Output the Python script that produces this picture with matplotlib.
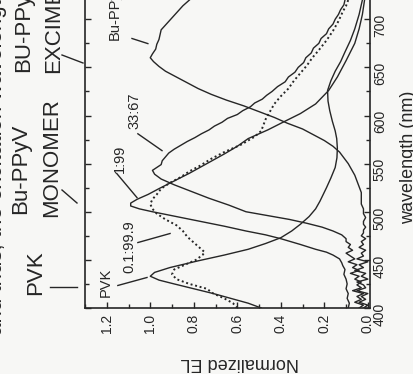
import matplotlib
matplotlib.use("Agg")
import matplotlib.pyplot as plt
from matplotlib.ticker import MultipleLocator
from matplotlib.lines import Line2D

plt.rcParams['font.family'] = ['Liberation Sans', 'DejaVu Sans']

# EL spectra of PVK : Bu-PPyV blends (wavelength in nm, normalized EL)
wl_pvk = [400, 405, 410, 415, 420, 425, 429, 433, 437, 442, 449, 455, 461, 467, 473, 480,
          487, 495, 503, 511, 518, 525, 535, 546, 556, 566, 576, 584, 594, 605, 615, 626,
          636, 646, 656, 666, 678, 690, 705, 720]
el_pvk = [0.49, 0.55, 0.63, 0.71, 0.80, 0.89, 0.96, 1.00, 0.98, 0.91, 0.78, 0.66, 0.55, 0.47,
          0.40, 0.35, 0.31, 0.27, 0.24, 0.22, 0.205, 0.19, 0.17, 0.15, 0.142, 0.14, 0.143,
          0.15, 0.163, 0.175, 0.183, 0.185, 0.17, 0.15, 0.125, 0.105, 0.08, 0.06, 0.04, 0.025]

wl_01 = [400, 405, 410, 415, 420, 425, 430, 435, 440, 445, 450, 455, 458, 462, 468, 474,
         480, 486, 492, 498, 503, 508, 513, 518, 524, 530, 536, 542, 548, 555, 562, 570,
         578, 584, 590, 596, 604, 612, 620, 628, 636, 644, 652, 660, 668, 678, 688, 698,
         708, 714, 720]
el_01 = [0.60, 0.62, 0.66, 0.71, 0.74, 0.82, 0.88, 0.90, 0.89, 0.84, 0.79, 0.76, 0.75,
         0.77, 0.80, 0.83, 0.85, 0.88, 0.93, 0.97, 0.99, 1.00, 0.99, 0.97, 0.95, 0.91,
         0.86, 0.82, 0.77, 0.72, 0.66, 0.58, 0.52, 0.49, 0.48, 0.47, 0.45, 0.43, 0.40,
         0.365, 0.34, 0.31, 0.28, 0.255, 0.225, 0.19, 0.16, 0.135, 0.115, 0.10, 0.09]

wl_1 = [400, 405, 410, 415, 420, 425, 430, 435, 440, 444, 447, 451, 455, 458, 461, 466,
        472, 476, 480, 485, 490, 495, 500, 503, 506, 509, 513, 518, 524, 532, 540, 550,
        560, 568, 576, 585, 593, 602, 612, 626, 640, 657, 675, 690, 705, 720]
el_1 = [0.09, 0.085, 0.095, 0.09, 0.10, 0.095, 0.10, 0.11, 0.105, 0.115, 0.12, 0.13, 0.16,
        0.19, 0.24, 0.31, 0.40, 0.47, 0.56, 0.66, 0.77, 0.88, 0.99, 1.05, 1.09, 1.09, 1.06,
        1.01, 0.96, 0.89, 0.82, 0.74, 0.66, 0.60, 0.55, 0.46, 0.39, 0.31, 0.24, 0.18, 0.14,
        0.10, 0.06, 0.04, 0.025, 0.015]

wl_33 = [400, 403, 406, 409, 412, 415, 418, 421, 424, 427, 430, 433, 436, 439, 442, 445,
         448, 451, 454, 457, 460, 463, 466, 469, 472, 476, 480, 484, 488, 492, 496, 500,
         507, 514, 521, 528, 534, 539, 543, 546, 549, 553, 557, 561, 565, 569, 573, 577,
         581, 585, 589, 593, 597, 601, 605, 609, 613, 617, 621, 625, 630, 635, 640, 645,
         650, 655, 660, 665, 670, 675, 680, 685, 690, 695, 700, 705, 710, 715, 720]
el_33 = [0.04, 0.02, 0.06, 0.03, 0.05, 0.02, 0.07, 0.03, 0.05, 0.03, 0.06, 0.04, 0.08, 0.04,
         0.07, 0.05, 0.09, 0.06, 0.08, 0.10, 0.07, 0.09, 0.08, 0.10, 0.10, 0.12, 0.16, 0.21,
         0.28, 0.36, 0.46, 0.56, 0.64, 0.73, 0.81, 0.89, 0.95, 0.98, 0.99, 0.97, 0.95, 0.945,
         0.93, 0.915, 0.89, 0.86, 0.83, 0.795, 0.765, 0.73, 0.705, 0.67, 0.645, 0.60, 0.575,
         0.54, 0.52, 0.485, 0.465, 0.44, 0.415, 0.38, 0.365, 0.335, 0.32, 0.295, 0.285, 0.26,
         0.25, 0.225, 0.215, 0.19, 0.18, 0.16, 0.15, 0.135, 0.125, 0.11, 0.105]

wl_bu = [400, 403, 406, 409, 412, 415, 418, 421, 424, 427, 430, 433, 436, 439, 442, 445,
         448, 451, 454, 457, 460, 463, 466, 469, 472, 475, 478, 481, 484, 487, 490, 494,
         498, 503, 508, 514, 520, 526, 532, 538, 544, 550, 556, 562, 568, 574, 580, 586,
         592, 598, 604, 610, 616, 622, 628, 634, 640, 646, 651, 656, 660, 664, 669, 674,
         679, 684, 689, 694, 699, 704, 709, 714, 720]
el_bu = [0.02, 0.00, 0.04, 0.01, 0.03, 0.00, 0.05, 0.01, 0.02, 0.05, 0.00, 0.03, 0.01, 0.06,
         0.02, 0.04, 0.00, 0.05, 0.02, 0.03, 0.01, 0.04, 0.02, 0.03, 0.01, 0.03, 0.02, 0.02,
         0.01, 0.02, 0.02, 0.01, 0.02, 0.02, 0.03, 0.03, 0.03, 0.04, 0.05, 0.06, 0.075, 0.09,
         0.11, 0.13, 0.16, 0.20, 0.25, 0.30, 0.37, 0.43, 0.50, 0.57, 0.65, 0.72, 0.78, 0.83,
         0.88, 0.93, 0.96, 0.985, 1.00, 0.99, 0.975, 0.97, 0.96, 0.955, 0.95, 0.93, 0.91,
         0.89, 0.87, 0.85, 0.82]

ink = '#262626'
paper = '#f7f7f5'

fig = plt.figure(figsize=(4.14, 3.74), dpi=100, facecolor=paper)
W, H = 414.0, 374.0


def px(x, y):
    # pixel position (from top-left) -> figure fraction
    return x / W, 1 - y / H


ax = fig.add_axes([85 / W, 66 / H, 285 / W, 308 / H])
ax.set_facecolor(paper)

# spectra drawn sideways: EL runs along the bottom, wavelength up the right side
ax.plot(el_pvk, wl_pvk, color=ink, lw=1.0)
ax.plot(el_01, wl_01, color=ink, lw=1.4, ls=(0, (1, 1.4)))
ax.plot(el_1, wl_1, color=ink, lw=1.0)
ax.plot(el_33, wl_33, color=ink, lw=1.0)
ax.plot(el_bu, wl_bu, color=ink, lw=1.0)

ax.set_xlim(1.30, -0.01)
ax.set_ylim(400, 720)
ax.spines['top'].set_visible(False)
for s in ['left', 'right', 'bottom']:
    ax.spines[s].set_linewidth(1.2)
    ax.spines[s].set_color(ink)

ax.xaxis.set_major_locator(MultipleLocator(0.2))
ax.xaxis.set_minor_locator(MultipleLocator(0.1))
ax.yaxis.set_major_locator(MultipleLocator(50))
ax.yaxis.set_minor_locator(MultipleLocator(25))
ax.tick_params(axis='x', which='both', direction='in', top=False, bottom=True,
               labelrotation=90, pad=4, labelsize=10, colors=ink)
ax.tick_params(axis='y', which='both', direction='in', left=True, right=True,
               labelleft=False, labelright=True, labelrotation=90, pad=2,
               labelsize=10, colors=ink)
ax.tick_params(which='major', length=4, width=1.0)
ax.tick_params(which='minor', length=3, width=1.0)

# curve labels with pointer lines
inside = [
    ('PVK', 1.204, 426.5, 'center', (1.149, 1.015), (423.4, 431.7)),
    ('0.1:99.9', 1.094, 464, 'center', (1.057, 0.909), (468.0, 477.4)),
    ('1:99', 1.14, 555, 'center', (1.154, 1.061), (539.7, 514.7)),
    ('33:67', 1.071, 605, 'center', (1.057, 0.946), (581.0, 563.5)),
    ('Bu-PPyV', 1.163, 678, 'bottom', (1.084, 1.011), (680.0, 674.7)),
]
for txt, x, y, va, lx, ly in inside:
    ax.text(x, y, txt, rotation=90, ha='center', va=va, fontsize=10.5, color=ink)
    ax.plot(lx, ly, color=ink, lw=1.0)

# band assignments left of the frame
fig.text(*px(36, 273), 'PVK', rotation=90, ha='center', va='center', fontsize=16, color=ink)
fig.text(*px(21, 214), 'Bu-PPyV', rotation=90, ha='center', va='bottom', fontsize=16, color=ink)
fig.text(*px(52, 217), 'MONOMER', rotation=90, ha='center', va='bottom', fontsize=16, color=ink)
fig.text(*px(24, 72), 'BU-PPyV', rotation=90, ha='center', va='bottom', fontsize=16, color=ink)
fig.text(*px(54, 73), 'EXCIMER', rotation=90, ha='center', va='bottom', fontsize=16, color=ink)
fig.text(*px(-3, 335), 'and thus, the excitation wavelength is', rotation=90,
         ha='center', va='bottom', fontsize=16, color=ink)

for (x0, y0), (x1, y1) in [((50, 287), (77, 287)), ((62, 190), (77, 203)), ((62, 55), (83, 63))]:
    a, b = px(x0, y0)
    c, d = px(x1, y1)
    fig.add_artist(Line2D([a, c], [b, d], color=ink, lw=1.0))

fig.text(*px(240, 363), 'Normalized EL', rotation=180, ha='center', va='center',
         fontsize=13, color=ink)
fig.text(*px(400, 157), 'wavelength (nm)', rotation=90, ha='left', va='center',
         fontsize=13, color=ink)

fig.savefig('out.png', dpi=100, facecolor=paper)
